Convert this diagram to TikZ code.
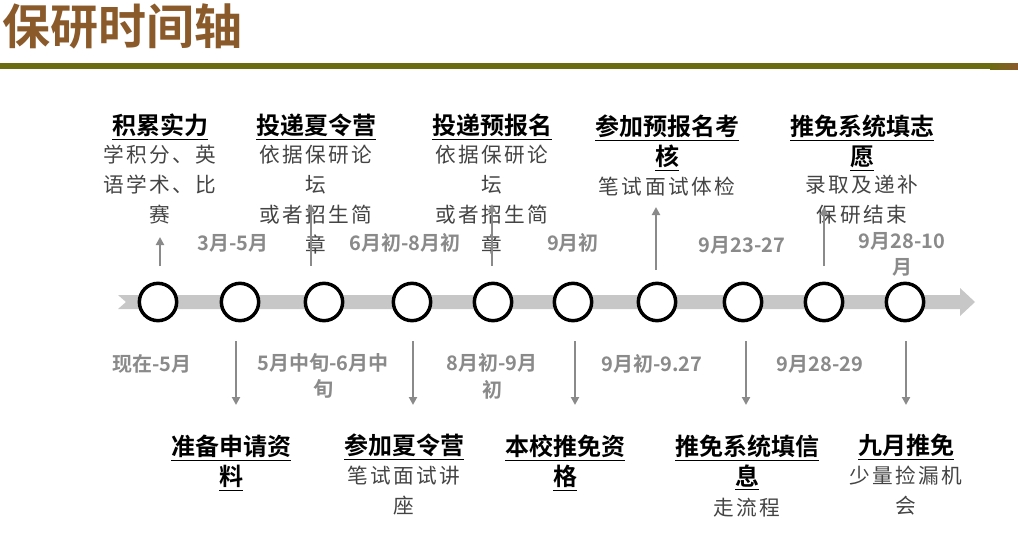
\documentclass[tikz,border=0pt]{standalone}
\usepackage{fontspec}
\setmainfont{Liberation Serif}
\newfontfamily\cjk{Noto Sans CJK SC}
\newfontfamily\cjkb{Noto Sans CJK SC Bold}
\newfontfamily\cjksp[LetterSpace=12]{Noto Sans CJK SC}
\usetikzlibrary{arrows.meta}
\definecolor{brownt}{HTML}{8B5A2B}
\definecolor{olive}{HTML}{6B6B10}
\definecolor{dgray}{HTML}{8A8A8A}
\definecolor{tgray}{HTML}{444444}
\tikzset{
  dot/.style={circle,draw=black,line width=2.6pt,fill=white,minimum size=28pt,inner sep=0},
  head/.style={font=\cjkb\fontsize{18}{22.5}\selectfont,align=center,inner sep=0},
  sub/.style={font=\cjksp\fontsize{15.5}{22.5}\selectfont,text=tgray,align=center,inner sep=0},
  date/.style={font=\cjkb\fontsize{15}{20}\selectfont,text=dgray,align=center,inner sep=0},
  arr/.style={draw=dgray,line width=1.5pt,-{Triangle[length=6pt,width=6pt]}}
}
\begin{document}
\begin{tikzpicture}[x=0.75pt,y=-0.75pt]
\useasboundingbox (0,0) rectangle (1018,536);
\node[font=\cjkb\fontsize{36}{36}\selectfont,text=brownt,anchor=west,inner sep=0] (title) at (2,26) {保研时间轴};
\fill[olive] (0,63) rectangle (990,69);
\shade[left color=olive,right color=brownt] (990,63) rectangle (1018,69);
% bar
\fill[black!22] (118,295) -- (960,295) -- (960,288) -- (975,302) -- (960,316) -- (960,309) -- (118,309) -- (126,302) -- cycle;
\foreach \n/\x in {c1/158,c2/240,c3/324,c4/412,c5/493,c6/573,c7/657,c8/743,c9/824,c10/905}
  \node[dot] (\n) at (\x,302) {};
% top heads
\node[head] (h1) at (160,127) {\underline{积累实力}};
\node[sub,anchor=north] (s1) at (160,145) {学积分、英\\语学术、比\\赛};
\node[head] (h2) at (316,127) {\underline{投递夏令营}};
\node[sub,anchor=north] (s2) at (316,145) {依据保研论\\坛\\或者招生简\\章};
\node[head] (h3) at (492,127) {\underline{投递预报名}};
\node[sub,anchor=north] (s3) at (492,145) {依据保研论\\坛\\或者招生简\\章};
\node[head,anchor=north] (h4) at (667,115) {\underline{参加预报名考}\\\underline{核}};
\node[sub] (s4) at (667,187) {笔试面试体检};
\node[head,anchor=north] (h5) at (862,115) {\underline{推免系统填志}\\\underline{愿}};
\node[sub,anchor=north] (s5) at (862,175) {录取及递补\\保研结束};
% up arrows
\coordinate (u1) at (160,237); \coordinate (u2) at (311,204); \coordinate (u3) at (492,204);
\coordinate (u4) at (656,207); \coordinate (u5) at (824,207);
\draw[arr] (160,266) -- (u1);
\draw[arr] (311,266) -- (u2);
\draw[arr] (492,266) -- (u3);
\draw[arr] (656,270) -- (u4);
\draw[arr] (824,266) -- (u5);
% dates top
\node[date] (d1) at (233,243) {3月-5月};
\node[date] (d2) at (405,243) {6月初-8月初};
\node[date] (d3) at (573,243) {9月初};
\node[date] (d4) at (742,245) {9月23-27};
\node[date,anchor=north] (d5) at (902,232) {9月28-10\\月};
% dates bottom
\node[date] (e1) at (152,364) {现在-5月};
\node[date,anchor=north] (e2) at (323,353) {5月中旬-6月中\\旬};
\node[date,anchor=north] (e3) at (492,353) {8月初-9月\\初};
\node[date] (e4) at (652,364) {9月初-9.27};
\node[date] (e5) at (820,364) {9月28-29};
% down arrows
\foreach \x/\n in {236/v1,413/v2,575/v3,746/v4,906/v5}{
  \coordinate (\n) at (\x,405);
  \draw[arr] (\x,341) -- (\n);
}
% bottom heads
\node[head,anchor=north] (b1) at (231,435) {\underline{准备申请资}\\\underline{料}};
\node[head] (b2) at (404,447) {\underline{参加夏令营}};
\node[sub,anchor=north] (t2) at (404,466) {笔试面试讲\\座};
\node[head,anchor=north] (b3) at (565,435) {\underline{本校推免资}\\\underline{格}};
\node[head,anchor=north] (b4) at (747,435) {\underline{推免系统填信}\\\underline{息}};
\node[sub] (t4) at (747,508) {走流程};
\node[head] (b5) at (906,447) {\underline{九月推免}};
\node[sub,anchor=north] (t5) at (906,466) {少量捡漏机\\会};
\end{tikzpicture}
\end{document}
